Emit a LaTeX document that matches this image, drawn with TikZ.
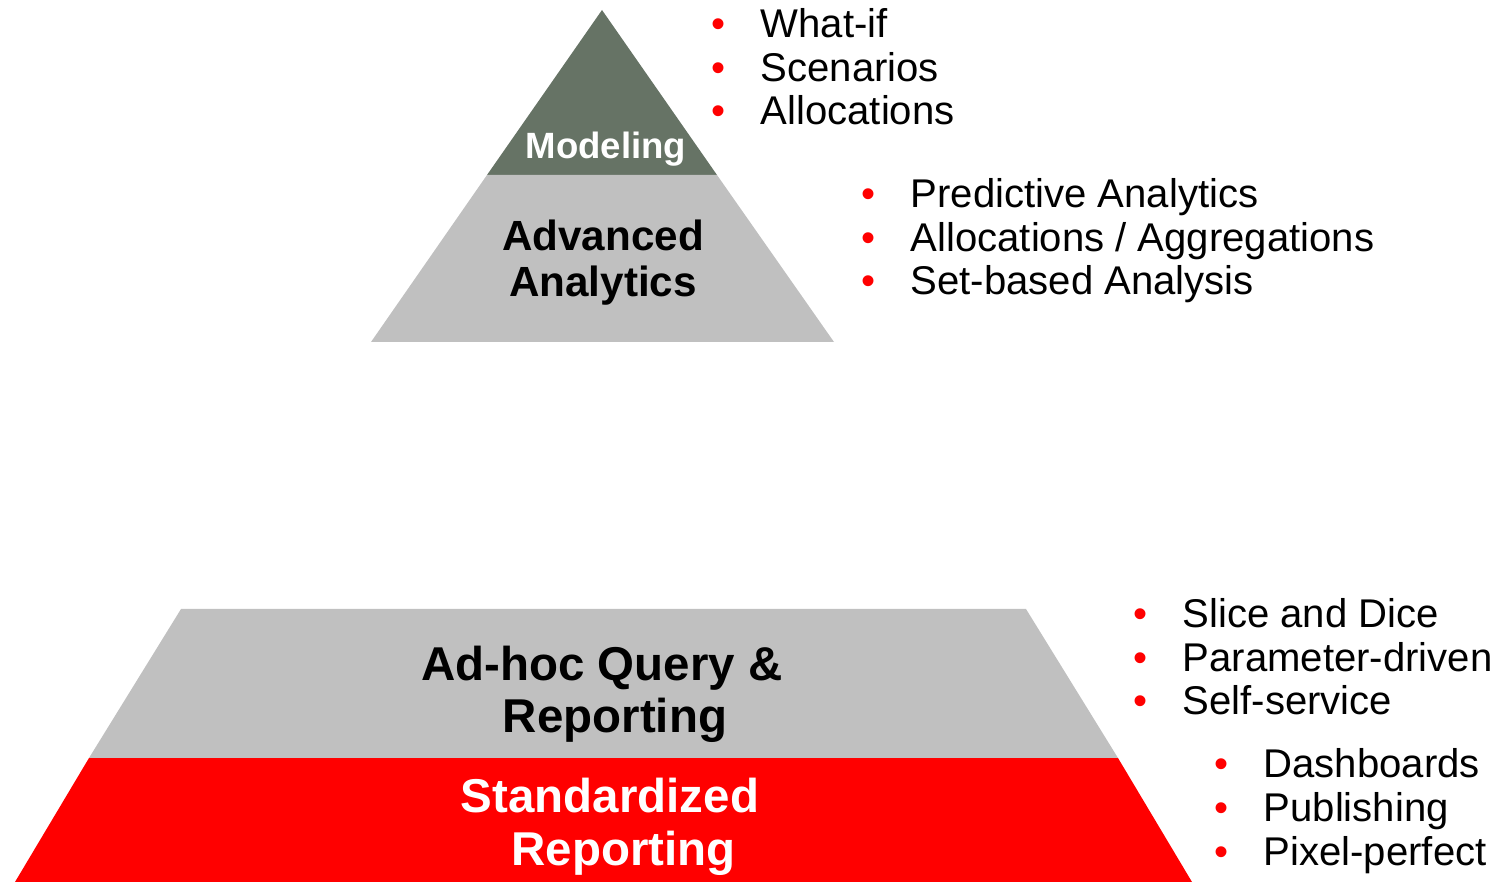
\documentclass[tikz,border=0pt]{standalone}
\usepackage{fontspec}
\setmainfont{Liberation Sans}
\usepackage{tikz}

\definecolor{modelgreen}{RGB}{102,115,101}
\definecolor{layergrey}{RGB}{192,192,192}
\definecolor{layerred}{RGB}{255,0,0}

\newcommand{\itm}{\leavevmode\llap{\textcolor{layerred}{\textbullet}\hspace{0.35cm}}}

\begin{document}
\begin{tikzpicture}[x=0.01cm, y=-0.01cm,
    bullets/.style={anchor=base west, align=left, inner sep=0pt, font=\fontsize{11.4}{12.4}\selectfont},
    layertext/.style={anchor=base, align=center, inner sep=0pt, font=\bfseries\fontsize{12}{13.1}\selectfont}]
                \useasboundingbox (0,0) rectangle (1511,882);
                \fill[modelgreen] (602,10) -- (717,175) -- (487,175) -- cycle;
                \fill[layergrey] (487,175) -- (717,175) -- (834,342) -- (371,342) -- cycle;
                \fill[layergrey] (181,609) -- (1026,609) -- (1118,758) -- (89,758) -- cycle;
                \fill[layerred] (89,758) -- (1118,758) -- (1192,882) -- (15,882) -- cycle;
                \node[layertext, text=white, font=\bfseries\fontsize{10.4}{12}\selectfont] (modeling) at (606,159) {Modeling};
                \node[layertext] (advanced) at (603,297) {Advanced\\Analytics};
                \node[layertext, font=\bfseries\fontsize{13.5}{14.6}\selectfont] (adhoc) at (602,732) {Ad-hoc Query \&\\\hspace*{0.26cm}Reporting};
                \node[layertext, text=white, font=\bfseries\fontsize{13.5}{14.8}\selectfont] (standard) at (610,865) {Standardized\\\hspace*{0.27cm}Reporting};
                \node[bullets] (modellist) at (760,125) {\itm What-if\\\itm Scenarios\\\itm Allocations};
                \node[bullets] (analyticslist) at (910,295) {\itm Predictive Analytics\\\itm Allocations / Aggregations\\\itm Set-based Analysis};
                \node[bullets] (adhoclist) at (1182,715) {\itm Slice and Dice\\\itm Parameter-driven\\\itm Self-service};
                \node[bullets] (standardlist) at (1263,865) {\itm Dashboards\\\itm Publishing\\\itm Pixel-perfect};
            \end{tikzpicture}
\end{document}
